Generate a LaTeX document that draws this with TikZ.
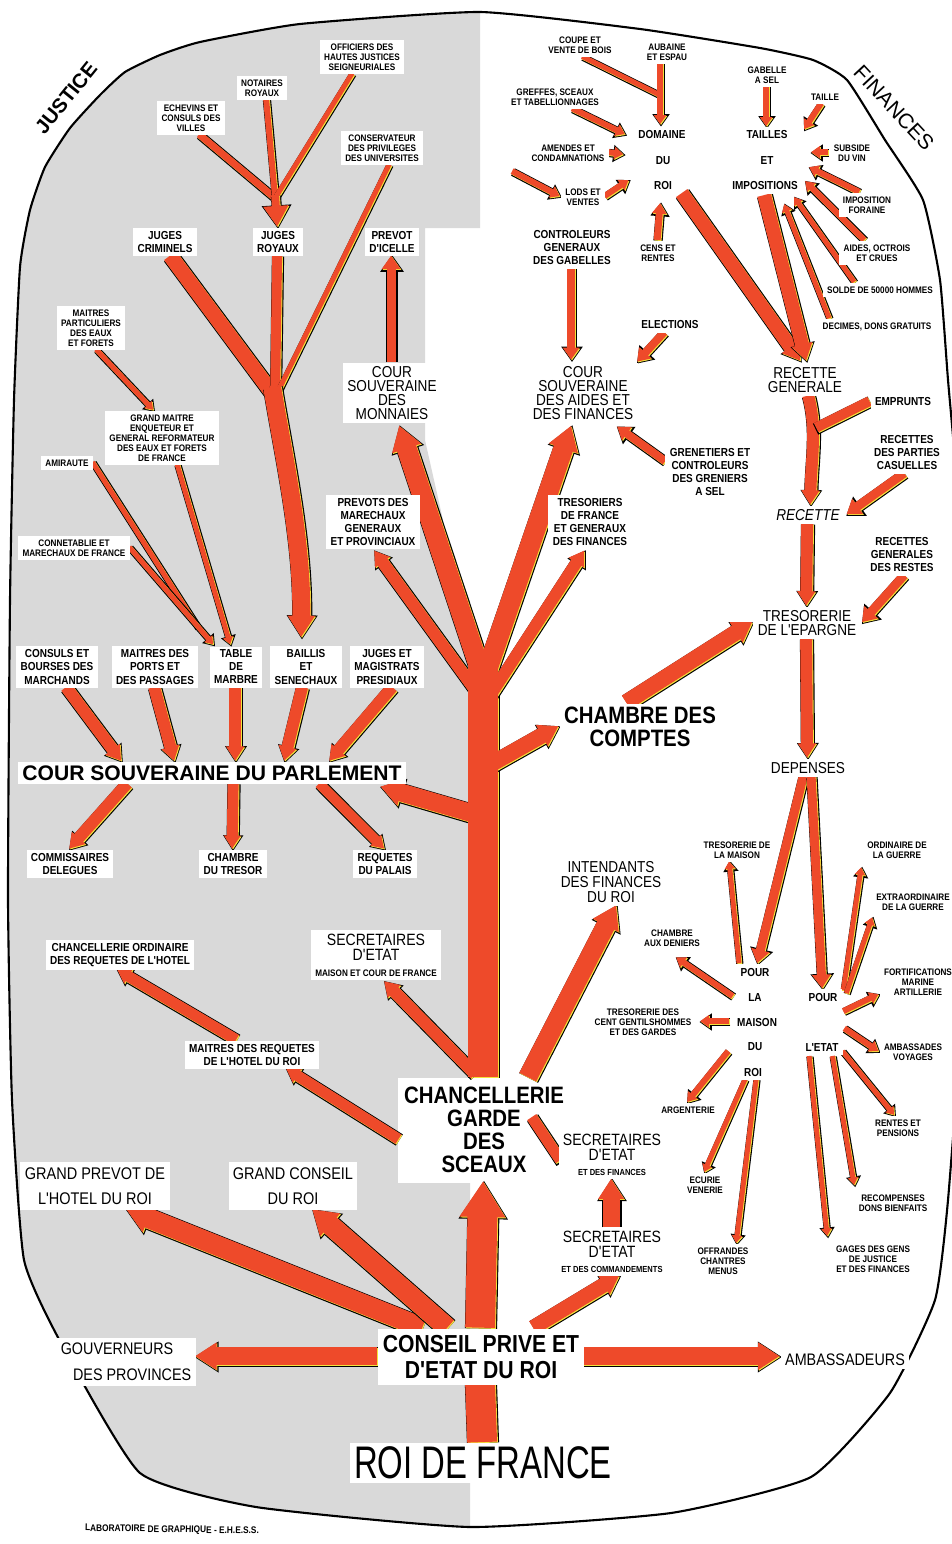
\documentclass[tikz,border=0pt]{standalone}
\usepackage{fontspec}
\setmainfont{Liberation Sans}
\newfontfamily\condf{Liberation Sans}[FakeStretch=0.86]
\newfontfamily\roif{Liberation Sans}[FakeStretch=0.72]
\usetikzlibrary{arrows.meta,calc}
\definecolor{flowred}{HTML}{EE4A2A}
\definecolor{flowyel}{HTML}{F4E23C}
\definecolor{justgrey}{HTML}{D9D9D9}
\pgfdeclarelayer{bg}
\pgfdeclarelayer{arr}
\pgfsetlayers{bg,arr,main}
\tikzset{
  lab/.style={fill=white, inner xsep=2.5pt, inner ysep=2pt, align=center},
  sm/.style={lab, font=\condf\bfseries\fontsize{5.4}{5.7}\selectfont},
  md/.style={lab, font=\condf\bfseries\fontsize{6.6}{7.4}\selectfont},
  lg/.style={lab, font=\condf\fontsize{9}{8}\selectfont},
  hg/.style={lab, font=\condf\bfseries\fontsize{13.5}{13.1}\selectfont},
  flow/.style={draw=flowyel, line width=#1*0.567pt,
    -{Triangle[length=0pt 1.5, width=0pt 2]},
    preaction={draw=black, line width=#1*0.567pt+1.3pt, shorten >=-0.9pt},
    postaction={draw=flowred, transform canvas={shift={(-0.5pt,0.5pt)}}}},
  bigflow/.style={flow=#1, -{Triangle[length=0pt 1.2, width=0pt 1.45]}},
  headflow/.style={draw=flowyel, line width=#1*0.567pt,
    -{Triangle[length=0pt 2.6, width=0pt 3]},
    preaction={draw=black, line width=#1*0.567pt+1.3pt, shorten >=-0.9pt,
      -{Triangle[length=-1.6pt 2.6, width=-1.5pt 3]}},
    postaction={draw=flowred, transform canvas={shift={(-0.5pt,0.5pt)}}}},
  bar/.style={flow=#1, -},
  redpass/.style={draw=flowred, line width=#1*0.567pt, transform canvas={shift={(-0.5pt,0.5pt)}}}
}
\begin{document}
\begin{tikzpicture}[x=0.02cm, y=-0.02cm]
\useasboundingbox (0,0) rectangle (952,1544);

% background: justice side in grey
\begin{pgfonlayer}{bg}
  \begin{scope}
    \clip plot[smooth cycle, tension=0.3] coordinates {(480,12) (640,29) (760,48) (813,60) (847,80) (885,140) (923,200) (940,280) (948,380) (958,500) (964,700) (962,1000) (948,1200) (935,1300) (890,1393) (811,1477) (671,1513) (470,1527) (256,1507) (140,1473) (61,1343) (24,1260) (12,1100) (8,900) (10,600) (14,400) (20,267) (30,210) (45,167) (70,128) (100,95) (125,72) (160,55) (200,42) (300,24)};
    \fill[justgrey] (0,0) -- (480,0) -- (480,228) -- (425,228) -- (425,440) -- (470,640) -- (470,1544) -- (0,1544) -- cycle;
    \fill[white] (398,1078) rectangle (486,1183);
  \end{scope}
  \draw[line width=1.2pt] plot[smooth cycle, tension=0.3] coordinates {(480,12) (640,29) (760,48) (813,60) (847,80) (885,140) (923,200) (940,280) (948,380) (958,500) (964,700) (962,1000) (948,1200) (935,1300) (890,1393) (811,1477) (671,1513) (470,1527) (256,1507) (140,1473) (61,1343) (24,1260) (12,1100) (8,900) (10,600) (14,400) (20,267) (30,210) (45,167) (70,128) (100,95) (125,72) (160,55) (200,42) (300,24)};
\end{pgfonlayer}

\node[font=\bfseries\fontsize{11.5}{12}\selectfont, rotate=51] (justice) at (66,98) {JUSTICE};
\node[font=\fontsize{12}{12}\selectfont, rotate=-47] (finances) at (894,108) {FINANCES};

% justice
\node[sm] (offic) at (362,57) {OFFICIERS DES\\HAUTES JUSTICES\\SEIGNEURIALES};
\node[sm] (notair) at (262,88) {NOTAIRES\\ROYAUX};
\node[sm] (echev) at (191,118) {ECHEVINS ET\\CONSULS DES\\VILLES};
\node[sm] (conserv) at (382,148) {CONSERVATEUR\\DES PRIVILEGES\\DES UNIVERSITES};
\node[md] (jcrim) at (165,242) {JUGES\\CRIMINELS};
\node[md] (jroy) at (278,242) {JUGES\\ROYAUX};
\node[md] (prevot) at (392,242) {PREVOT\\D'ICELLE};
\node[sm] (mpart) at (91,328) {MAITRES\\PARTICULIERS\\DES EAUX\\ET FORETS};
\node[lg] (monnaies) at (392,393) {COUR\\SOUVERAINE\\DES\\MONNAIES};
\node[sm] (gmaitre) at (162,438) {GRAND MAITRE\\ENQUETEUR ET\\GENERAL REFORMATEUR\\DES EAUX ET FORETS\\DE FRANCE};
\node[sm] (amir) at (67,463) {AMIRAUTE};
\node[md] (prevots) at (373,522) {PREVOTS DES\\MARECHAUX\\GENERAUX\\ET PROVINCIAUX};
\node[sm] (connet) at (74,548) {CONNETABLIE ET\\MARECHAUX DE FRANCE};
\node[md] (consuls) at (57,667) {CONSULS ET\\BOURSES DES\\MARCHANDS};
\node[md] (mports) at (155,667) {MAITRES DES\\PORTS ET\\DES PASSAGES};
\node[md] (table) at (236,667) {TABLE\\DE\\MARBRE};
\node[md] (baillis) at (306,667) {BAILLIS\\ET\\SENECHAUX};
\node[md] (jmag) at (387,667) {JUGES ET\\MAGISTRATS\\PRESIDIAUX};
\node[lab, font=\bfseries\fontsize{12}{12}\selectfont] (parl) at (212,773) {COUR SOUVERAINE DU PARLEMENT};
\node[md] (commis) at (70,864) {COMMISSAIRES\\DELEGUES};
\node[md] (ctresor) at (233,864) {CHAMBRE\\DU TRESOR};
\node[md] (reqpal) at (385,864) {REQUETES\\DU PALAIS};
\node[md] (chord) at (120,955) {CHANCELLERIE ORDINAIRE\\DES REQUETES DE L'HOTEL};
\node[lab, font=\condf\fontsize{9.3}{8.8}\selectfont] (secmais) at (376,955) {SECRETAIRES\\D'ETAT\\{\bfseries\fontsize{5.4}{5.4}\selectfont MAISON ET COUR DE FRANCE}};
\node[md] (mreq) at (252,1055) {MAITRES DES REQUETES\\DE L'HOTEL DU ROI};
\node[hg, fill=none, inner ysep=5pt] (chanc) at (484,1130) {CHANCELLERIE\\GARDE\\DES\\SCEAUX};
\node[lab, inner ysep=3pt, font=\condf\fontsize{9.6}{14.2}\selectfont] (gprevot) at (95,1186) {GRAND PREVOT DE\\L'HOTEL DU ROI};
\node[lab, inner ysep=3pt, font=\condf\fontsize{9.6}{14.2}\selectfont] (gconseil) at (293,1186) {GRAND CONSEIL\\DU ROI};
\node[lab, align=left, inner ysep=3pt, font=\condf\fontsize{9.5}{14.7}\selectfont] (gouv) at (126,1362) {GOUVERNEURS\\\hspace*{7pt}DES PROVINCES};
\node[lab, inner ysep=3.4pt, font=\condf\bfseries\fontsize{14}{15.3}\selectfont] (conseil) at (481,1357) {CONSEIL PRIVE ET\\D'ETAT DU ROI};
\node[lab, font=\condf\fontsize{9.5}{10}\selectfont] (ambass) at (845,1360) {AMBASSADEURS};
\node[lab, font=\roif\fontsize{26}{26}\selectfont] (roi) at (483,1463) {ROI DE FRANCE};
\node[font=\condf\bfseries\fontsize{5.5}{5.5}\selectfont, rotate=-1] (labo) at (172,1530) {LABORATOIRE DE GRAPHIQUE - E.H.E.S.S.};

% finances
\node[sm] (coupe) at (580,45) {COUPE ET\\VENTE DE BOIS};
\node[sm] (aubaine) at (667,52) {AUBAINE\\ET ESPAU};
\node[sm] (greffes) at (555,97) {GREFFES, SCEAUX\\ET TABELLIONNAGES};
\node[md] (domaine) at (662,135) {DOMAINE};
\node[md] (domdu) at (663,161) {DU};
\node[md] (domroi) at (663,186) {ROI};
\node[sm] (amendes) at (568,153) {AMENDES ET\\CONDAMNATIONS};
\node[sm] (lods) at (583,197) {LODS ET\\VENTES};
\node[sm] (cens) at (658,253) {CENS ET\\RENTES};
\node[md] (controle) at (572,248) {CONTROLEURS\\GENERAUX\\DES GABELLES};
\node[md] (elect) at (670,325) {ELECTIONS};
\node[sm] (gabelle) at (767,75) {GABELLE\\A SEL};
\node[sm] (taille) at (825,97) {TAILLE};
\node[md] (tailles) at (767,135) {TAILLES};
\node[md] (tet) at (767,161) {ET};
\node[md] (impos) at (765,186) {IMPOSITIONS};
\node[sm] (subside) at (852,153) {SUBSIDE\\DU VIN};
\node[sm] (foraine) at (867,205) {IMPOSITION\\FORAINE};
\node[sm] (aides) at (877,253) {AIDES, OCTROIS\\ET CRUES};
\node[sm] (solde) at (880,290) {SOLDE DE 50000 HOMMES};
\node[sm] (decimes) at (877,327) {DECIMES, DONS GRATUITS};
\node[lg] (caides) at (583,393) {COUR\\SOUVERAINE\\DES AIDES ET\\DES FINANCES};
\node[md] (grenet) at (710,472) {GRENETIERS ET\\CONTROLEURS\\DES GRENIERS\\A SEL};
\node[md] (tresoriers) at (590,522) {TRESORIERS\\DE FRANCE\\ET GENERAUX\\DES FINANCES};
\node[lg] (rgen) at (805,380) {RECETTE\\GENERALE};
\node[md] (emprunts) at (903,402) {EMPRUNTS};
\node[md] (rparties) at (907,453) {RECETTES\\DES PARTIES\\CASUELLES};
\node[lg, font=\condf\itshape\fontsize{9}{8}\selectfont] (recette) at (808,515) {RECETTE};
\node[md] (rrestes) at (902,555) {RECETTES\\GENERALES\\DES RESTES};
\node[lg] (epargne) at (807,623) {TRESORERIE\\DE L'EPARGNE};
\node[hg] (comptes) at (640,727) {CHAMBRE DES\\COMPTES};
\node[lg] (depenses) at (808,768) {DEPENSES};
\node[sm] (tmaison) at (737,850) {TRESORERIE DE\\LA MAISON};
\node[sm] (ordg) at (897,850) {ORDINAIRE DE\\LA GUERRE};
\node[lab, font=\condf\fontsize{9}{8.3}\selectfont] (intend) at (611,882) {INTENDANTS\\DES FINANCES\\DU ROI};
\node[sm] (extrag) at (913,902) {EXTRAORDINAIRE\\DE LA GUERRE};
\node[sm] (cdeniers) at (672,938) {CHAMBRE\\AUX DENIERS};
\node[md] (pour1) at (755,972) {POUR};
\node[md] (la) at (755,997) {LA};
\node[md] (maison) at (757,1022) {MAISON};
\node[md] (mdu) at (755,1047) {DU};
\node[md] (mroi) at (753,1072) {ROI};
\node[md] (pour2) at (823,997) {POUR};
\node[md] (letat) at (822,1047) {L'ETAT};
\node[sm] (centg) at (643,1022) {TRESORERIE DES\\CENT GENTILSHOMMES\\ET DES GARDES};
\node[sm] (fortif) at (918,982) {FORTIFICATIONS\\MARINE\\ARTILLERIE};
\node[sm] (ambvoy) at (913,1052) {AMBASSADES\\VOYAGES};
\node[sm] (argent) at (688,1110) {ARGENTERIE};
\node[sm] (rentes) at (898,1128) {RENTES ET\\PENSIONS};
\node[lab, font=\condf\fontsize{9.3}{8.5}\selectfont] (secfin) at (612,1155) {SECRETAIRES\\D'ETAT\\{\bfseries\fontsize{5}{5}\selectfont ET DES FINANCES}};
\node[sm] (ecurie) at (705,1185) {ECURIE\\VENERIE};
\node[sm] (recomp) at (893,1203) {RECOMPENSES\\DONS BIENFAITS};
\node[lab, font=\condf\fontsize{9.3}{8.5}\selectfont] (seccom) at (612,1252) {SECRETAIRES\\D'ETAT\\{\bfseries\fontsize{5}{5}\selectfont ET DES COMMANDEMENTS}};
\node[sm] (offr) at (723,1261) {OFFRANDES\\CHANTRES\\MENUS};
\node[sm] (gages) at (873,1259) {GAGES DES GENS\\DE JUSTICE\\ET DES FINANCES};

\coordinate (jrtop) at (276,199);
\coordinate (jfork) at (273,388);
\coordinate (amjoin) at (198,627);
\coordinate (fork) at (484,650);
\coordinate (aubjoin) at (661,96);
\coordinate (lodsin) at (513,172);

\begin{pgfonlayer}{arr}
  % justice branches
  \draw[bar=7] ($(echev.south)+(9,0)$) -- (jrtop);
  \draw[bar=6] ($(notair.south)+(5,0)$) -- (jrtop);
  \draw[bar=5] ($(offic.south)+(-9,0)$) -- (jrtop);
  \draw[headflow=8] ($(jrtop)+(0,-3)$) -- (jroy.north);
  \draw[bar=15] ($(jcrim.south)+(6,0)$) -- ($(jfork)+(0,6)$);
  \draw[bar=10] (jroy.south) -- ($(jfork)+(3,6)$);
  \draw[bar=5] ($(conserv.south)+(8,0)$) -- ($(jfork)+(6,4)$);
  \draw[bigflow=18] (jfork) .. controls (285,460) and (303,540) .. ($(baillis.north)+(-4,-8)$);
  \draw[flow=9] (monnaies.north) -- (prevot.south);
  \draw[flow=5] ($(mpart.south)+(6,0)$) -- ($(gmaitre.north)+(-8,0)$);
  \draw[bar=5] (amir.east) -- (amjoin);
  \draw[flow=5] (connet.east) -- ($(table.north)+(-22,-1)$);
  \draw[flow=5] ($(gmaitre.south)+(16,0)$) -- ($(table.north)+(-5,-1)$);
  \draw[bigflow=12] ($(consuls.south)+(10,0)$) -- ($(parl.north)+(-90,0)$);
  \draw[bigflow=12] (mports.south) -- ($(parl.north)+(-37,0)$);
  \draw[bigflow=12] (table.south) -- ($(parl.north)+(24,0)$);
  \draw[bigflow=12] ($(baillis.south)+(-3,0)$) -- ($(parl.north)+(73,0)$);
  \draw[bigflow=12] ($(jmag.south)+(6,0)$) -- ($(parl.north)+(118,0)$);
  \draw[bigflow=12] ($(parl.south)+(-84,0)$) -- (commis.north);
  \draw[bigflow=11] ($(parl.south)+(22,0)$) -- (ctresor.north);
  \draw[bigflow=10] ($(parl.south)+(108,0)$) -- (reqpal.north);
  \draw[bigflow=11] ($(mreq.north)+(-15,0)$) -- ($(chord.south)+(-2,0)$);
  \draw[bigflow=11] ($(chanc.west)+(0,10)$) -- ($(mreq.south)+(35,0)$);

  % trunk and its branches
  \draw[bar=30] (chanc.north) -- (fork);
  \draw[bigflow=12] ($(fork)+(-5,45)$) -- ($(prevots.south)+(2,2)$);
  \draw[bigflow=20] ($(fork)+(-4,18)$) -- ($(monnaies.south)+(8,3)$);
  \draw[bigflow=20] ($(fork)+(5,18)$) -- ($(caides.south)+(-11,3)$);
  \draw[bigflow=12] ($(fork)+(8,45)$) -- ($(tresoriers.south)+(-5,2)$);
  \draw[bigflow=16] ($(fork)+(8,115)$) -- (comptes.west);
  \draw[bigflow=18] ($(fork)+(-8,165)$) -- ($(parl.south east)+(-25,3)$);
  \draw[bigflow=12] ($(fork)+(-8,425)$) -- ($(secmais.south)+(9,2)$);
  \draw[redpass=30] (chanc.north) -- (fork);

  % conseil and chancellerie
  \draw[bar=30] (roi.north) -- (conseil.south);
  \draw[bigflow=20] ($(conseil.north west)+(45,0)$) -- ($(gprevot.south)+(32,0)$);
  \draw[bigflow=20] ($(conseil.north west)+(70,0)$) -- ($(gconseil.south)+(20,0)$);
  \draw[bigflow=30] (conseil.north) -- (chanc.south);
  \draw[bigflow=15] ($(conseil.north east)+(-50,0)$) -- ($(seccom.south)+(8,0)$);
  \draw[bigflow=18] (conseil.west) -- (gouv.east |- conseil.west);
  \draw[bigflow=18] (conseil.east) -- (ambass.west |- conseil.east);
  \draw[bigflow=17] (seccom.north) -- (secfin.south);
  \draw[bar=11] ($(chanc.east)+(-36,-12)$) -- ($(secfin.west)+(3,6)$);
  \draw[bigflow=19] ($(chanc.north east)+(-40,0)$) -- ($(intend.south)+(6,0)$);

  % domaine, tailles
  \draw[bar=5] ($(coupe.south)+(3,0)$) -- (aubjoin);
  \draw[flow=6] ($(aubaine.south)+(-6,0)$) -- ($(domaine.north)+(-1,-2)$);
  \draw[flow=6] ($(greffes.south)+(18,0)$) -- ($(domaine.west)+(-8,0)$);
  \draw[flow=6] (amendes.east) -- ($(domdu.west)+(-27,-6)$);
  \draw[flow=6] (lodsin) -- (lods.west);
  \draw[flow=6] (lods.east) -- ($(domroi.west)+(-20,-5)$);
  \draw[flow=7] (cens.north) -- ($(domroi.south)+(-2,10)$);
  \draw[flow=8] (controle.south) -- ($(caides.north)+(-11,-2)$);
  \draw[flow=8] ($(elect.south)+(-5,0)$) -- (caides.north east);
  \draw[flow=8] ($(grenet.west)+(1,-10)$) -- ($(caides.south east)+(-20,4)$);
  \draw[bigflow=14] ($(domroi.south east)+(6,0)$) -- ($(rgen.north)+(-4,-2)$);
  \draw[flow=6] (gabelle.south) -- (tailles.north);
  \draw[flow=6] ($(taille.south)+(-3,0)$) -- ($(impos)+(40,-56)$);
  \draw[flow=6] (subside.west) -- ($(impos)+(47,-33)$);
  \draw[flow=6] ($(foraine.north)+(-7,0)$) -- ($(impos)+(45,-18)$);
  \draw[flow=6] ($(aides.north)+(-12,0)$) -- ($(impos)+(41,-4)$);
  \draw[flow=5] ($(solde.north)+(-25,0)$) -- ($(impos)+(30,12)$);
  \draw[flow=5] ($(decimes.north)+(-47,0)$) -- ($(impos)+(20,19)$);
  \draw[bigflow=14] ($(impos.south)+(0,2)$) -- ($(rgen.north)+(2,-2)$);

  % recettes
  \draw[bigflow=12] ($(rgen.south)+(4,0)$) .. controls (818,430) and (812,460) .. ($(recette.north)+(3,0)$);
  \draw[bar=10] (emprunts.west) -- ($(rgen.south)+(12,32)$);
  \draw[flow=9] ($(rparties.south)+(-2,0)$) -- ($(recette.east)+(3,0)$);
  \draw[bigflow=12] (recette.south) -- (epargne.north);
  \draw[flow=9] ($(rrestes.south)+(3,0)$) -- ($(epargne.east)+(2,0)$);
  \draw[bigflow=16] ($(comptes.north)+(-13,0)$) -- (epargne.west);
  \draw[bigflow=12] (epargne.south) -- (depenses.north);
  \draw[flow=9] ($(depenses.south)+(-4,0)$) -- ($(pour1.north)+(3,0)$);
  \draw[flow=9] ($(depenses.south)+(4,0)$) -- (pour2.north);

  % depenses
  \draw[flow=5] ($(pour1.north west)+(4,0)$) -- ($(tmaison.south)+(-7,0)$);
  \draw[flow=5] ($(pour2.north east)+(2,2)$) -- ($(ordg.south)+(-35,6)$);
  \draw[flow=5] ($(pour2.east)+(5,-3)$) -- ($(extrag.south)+(-40,4)$);
  \draw[flow=6] ($(la.west)+(-10,0)$) -- ($(cdeniers.south)+(5,8)$);
  \draw[flow=6] ($(maison.west)+(-2,0)$) -- ($(centg.east)+(5,0)$);
  \draw[flow=6] ($(mdu.west)+(-14,5)$) -- (argent.north);
  \draw[flow=5] ($(mroi.south)+(-7,0)$) -- (ecurie.north);
  \draw[flow=5] ($(mroi.south)+(4,0)$) -- ($(offr.north)+(14,0)$);
  \draw[flow=6] ($(pour2.east)+(2,15)$) -- ($(fortif.west)+(0,13)$);
  \draw[flow=6] ($(letat.north east)+(2,-10)$) -- (ambvoy.west);
  \draw[flow=5] ($(letat.east)+(0,5)$) -- ($(rentes.north)+(-3,0)$);
  \draw[flow=5] ($(letat.south east)+(-10,2)$) -- ($(recomp.north)+(-38,-5)$);
  \draw[flow=5] ($(letat.south)+(-12,2)$) -- ($(gages.north)+(-45,-5)$);
\end{pgfonlayer}
\end{tikzpicture}
\end{document}
